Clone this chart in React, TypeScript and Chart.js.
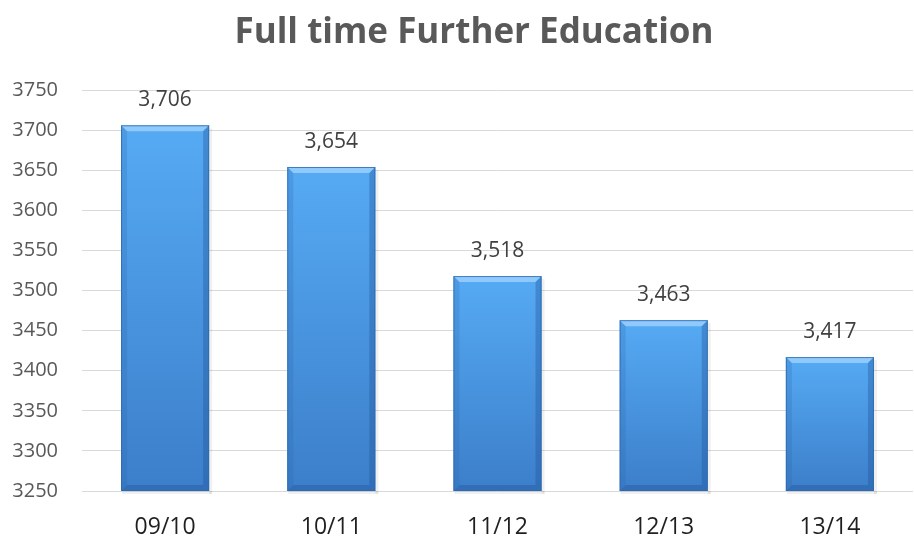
import React, { useEffect, useRef } from "react";
import { Chart, registerables } from "chart.js";

Chart.register(...registerables);

const categories = ["09/10", "10/11", "11/12", "12/13", "13/14"];
const values = [3706, 3654, 3518, 3463, 3417];
const yTicks = [3250, 3300, 3350, 3400, 3450, 3500, 3550, 3600, 3650, 3700, 3750];
const titleText = "Full time Further Education";

const FONT = "'Open Sans', 'Liberation Sans', sans-serif";
const TEXT = "#595959";

const titlePlugin = {
  id: "customTitle",
  afterDraw(chart: any) {
    const ctx = chart.ctx;
    ctx.save();
    ctx.fillStyle = TEXT;
    ctx.font = `bold 35px ${FONT}`;
    ctx.textAlign = "center";
    ctx.textBaseline = "alphabetic";
    ctx.fillText(titleText, 474, 43);
    ctx.restore();
  },
};

const bevelPlugin = {
  id: "bevel",
  afterDatasetsDraw(chart: any) {
    const ctx = chart.ctx;
    const area = chart.chartArea;
    const meta = chart.getDatasetMeta(0);
    meta.data.forEach((bar: any, i: number) => {
      const { x, y, base, width } = bar.getProps(["x", "y", "base", "width"], true);
      const l = x - width / 2;
      const r = x + width / 2;
      const t = y;
      const b = Math.min(base, area.bottom);
      const d = 6;
      ctx.save();
      // shadow
      ctx.fillStyle = "rgba(0,0,0,0.06)";
      ctx.fillRect(l + 1, b, width + 2, 3);
      ctx.fillRect(r, t + 3, 3, b - t);
      // body
      const g = ctx.createLinearGradient(0, t, 0, b);
      g.addColorStop(0, "#56aaf4");
      g.addColorStop(1, "#3c7ec9");
      ctx.fillStyle = g;
      ctx.fillRect(l, t, width, b - t);
      // top bevel
      ctx.beginPath();
      ctx.moveTo(l, t);
      ctx.lineTo(r, t);
      ctx.lineTo(r - d, t + d);
      ctx.lineTo(l + d, t + d);
      ctx.closePath();
      ctx.fillStyle = "rgba(170,215,255,0.7)";
      ctx.fill();
      // left bevel
      ctx.beginPath();
      ctx.moveTo(l, t);
      ctx.lineTo(l + d, t + d);
      ctx.lineTo(l + d, b - d);
      ctx.lineTo(l, b);
      ctx.closePath();
      ctx.fillStyle = "rgba(40,100,170,0.22)";
      ctx.fill();
      // right bevel
      ctx.beginPath();
      ctx.moveTo(r, t);
      ctx.lineTo(r - d, t + d);
      ctx.lineTo(r - d, b - d);
      ctx.lineTo(r, b);
      ctx.closePath();
      ctx.fillStyle = "rgba(30,80,150,0.35)";
      ctx.fill();
      // bottom bevel
      ctx.beginPath();
      ctx.moveTo(l, b);
      ctx.lineTo(l + d, b - d);
      ctx.lineTo(r - d, b - d);
      ctx.lineTo(r, b);
      ctx.closePath();
      ctx.fillStyle = "rgba(30,80,150,0.35)";
      ctx.fill();
      ctx.strokeStyle = "rgba(45,105,175,0.8)";
      ctx.lineWidth = 1;
      ctx.strokeRect(l + 0.5, t + 0.5, width - 1, b - t - 1);
      // label
      ctx.fillStyle = "#404040";
      ctx.font = `21px ${FONT}`;
      ctx.textAlign = "center";
      ctx.textBaseline = "middle";
      ctx.fillText(values[i].toLocaleString("en-US"), x, t - 25);
      ctx.restore();
    });
  },
};

export default function App() {
  const ref = useRef<HTMLCanvasElement>(null);
  useEffect(() => {
    if (!ref.current) return;
    const chart = new Chart(ref.current, {
      type: "bar",
      data: {
        labels: categories,
        datasets: [
          {
            data: values,
            backgroundColor: "rgba(0,0,0,0)",
            borderWidth: 0,
            barPercentage: 0.53,
            categoryPercentage: 1,
          },
        ],
      },
      options: {
        animation: false,
        responsive: false,
        layout: { padding: { left: 12, right: 1, top: 90, bottom: 0 } },
        plugins: {
          legend: { display: false },
          tooltip: { enabled: false },
          title: { display: false },
        },
        scales: {
          x: {
            grid: { display: false },
            border: { display: false },
            ticks: { color: "#1f1f1f", font: { family: FONT, size: 23 }, padding: 15 },
            afterFit: (s: any) => {
              s.height = 45;
            },
          },
          y: {
            min: 3250,
            max: 3750,
            afterBuildTicks: (axis: any) => {
              axis.ticks = yTicks.map((v) => ({ value: v }));
            },
            afterFit: (s: any) => {
              s.width = 70;
            },
            grid: { color: "#d9d9d9", drawTicks: false },
            border: { display: false },
            ticks: {
              color: TEXT,
              font: { family: FONT, size: 20 },
              padding: 24,
              callback: (v: any) => String(v),
            },
          },
        },
      },
      plugins: [bevelPlugin, titlePlugin],
    });
    return () => chart.destroy();
  }, []);
  return (
    <div style={{ position: "absolute", left: 0, top: 0, width: 914, height: 536, background: "#fff" }}>
      <canvas ref={ref} width={914} height={536} />
    </div>
  );
}
